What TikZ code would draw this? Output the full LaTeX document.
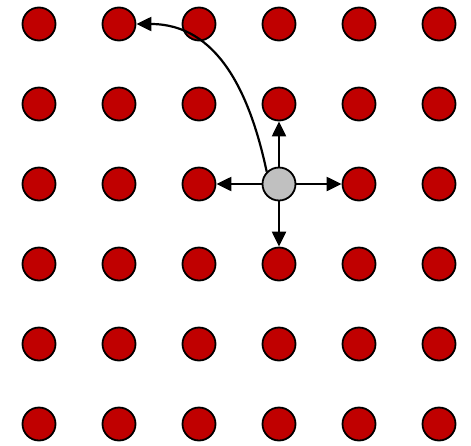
\documentclass[tikz,border=0pt]{standalone}
\usetikzlibrary{arrows.meta}
\definecolor{dotred}{HTML}{C00000}
\definecolor{dotgray}{HTML}{C0C0C0}
\tikzset{
  dot/.style={circle,draw=black,line width=1.8pt,fill=dotred,minimum size=33pt,inner sep=0pt},
  center/.style={dot,fill=dotgray},
  arr/.style={line width=2.2pt,-{Triangle[length=15pt,width=14pt]}}
}
\begin{document}
\begin{tikzpicture}[x=1pt,y=-1pt]
\useasboundingbox (0,0) rectangle (471,445);
\foreach \i in {1,...,6}{
  \foreach \j in {1,...,6}{
    \ifnum\i=4 \ifnum\j=3 \else
      \node[dot] (n\i\j) at ({39+80*(\i-1)},{24+80*(\j-1)}) {};
    \fi\else
      \node[dot] (n\i\j) at ({39+80*(\i-1)},{24+80*(\j-1)}) {};
    \fi
  }
}
\node[center] (c) at (279,184) {};
\draw[arr] (c) -- (n42);
\draw[arr] (c) -- (n33);
\draw[arr] (c) -- (n53);
\draw[arr] (c) -- (n44);
\draw[arr] (c.135) to[out=102,in=0,looseness=1.05] (n21);
\end{tikzpicture}
\end{document}
